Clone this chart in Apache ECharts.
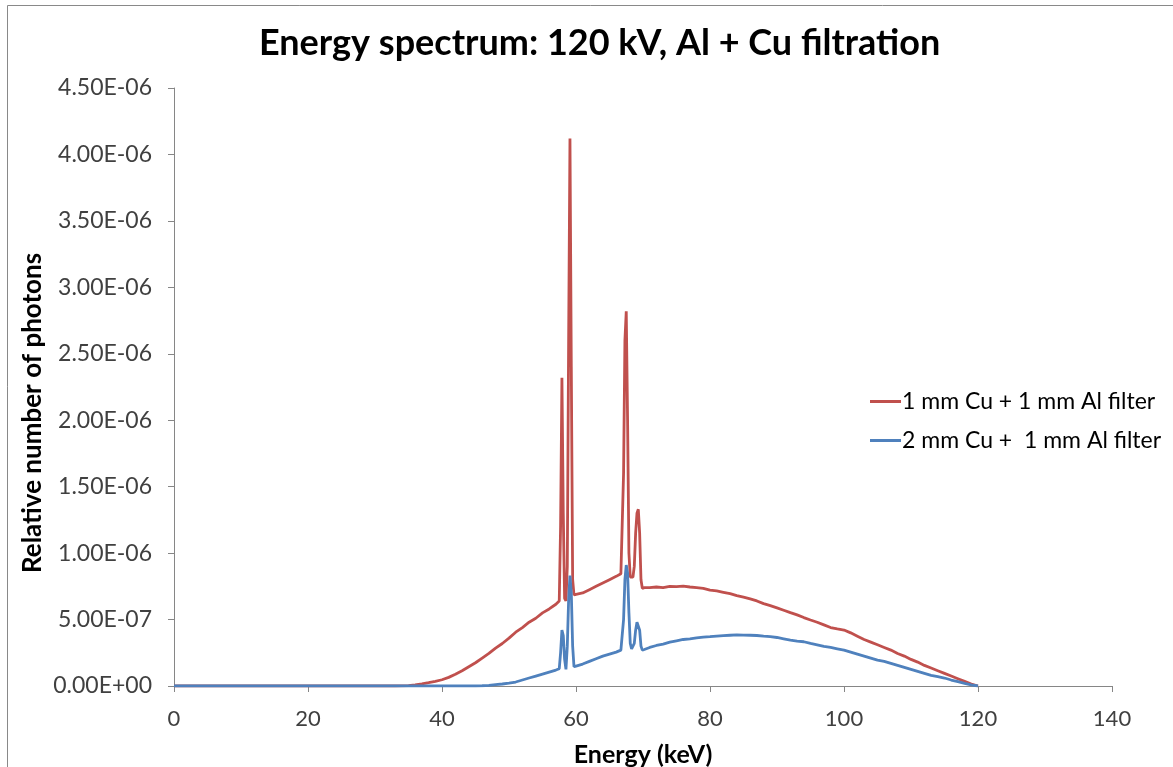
<!DOCTYPE html>
<html>
<head>
<meta charset="utf-8">
<title>Energy spectrum: 120 kV, Al + Cu filtration</title>
<script src="https://cdn.jsdelivr.net/npm/echarts@6/dist/echarts.min.js"></script>
<style>
  html, body { margin: 0; padding: 0; background: #ffffff; }
  #chart { width: 1173px; height: 767px; }
</style>
</head>
<body>
<div id="chart"></div>
<script>
// Photon energy (keV) sample points shared by both spectra
const energy = [
  0, 10, 20, 30, 33, 35, 36, 37, 38, 39, 40, 41, 42, 43, 44, 45, 46, 47, 48, 49,
  50, 51, 52, 53, 54, 55, 56, 57,
  57.5, 57.7, 57.9, 58.1, 58.3, 58.5, 58.7, 58.9, 59.1, 59.3, 59.5, 59.7, 60,
  61, 62, 63, 64, 65, 66, 66.7,
  66.9, 67.1, 67.3, 67.5, 67.7, 67.9, 68.1, 68.3, 68.5, 68.7, 68.9, 69.1, 69.3, 69.5, 69.7, 69.9, 70.2,
  71, 72, 73, 74, 75, 76, 77, 78, 79, 80, 81, 82, 83, 84, 85, 86, 87, 88, 89, 90,
  91, 92, 93, 94, 95, 96, 97, 98, 99, 100, 101, 102, 103, 104, 105, 106, 107, 108, 109, 110,
  111, 112, 113, 114, 115, 116, 117, 118, 119, 120
];

// Relative number of photons, in units of 1E-06
const cu1al1 = [
  0, 0, 0, 0, 0, 0.003, 0.008, 0.016, 0.025, 0.035, 0.047, 0.065, 0.088, 0.115, 0.145, 0.175, 0.21, 0.245, 0.285, 0.32,
  0.36, 0.405, 0.44, 0.48, 0.51, 0.55, 0.58, 0.615,
  0.64, 1.2, 2.32, 1.3, 0.66, 0.64, 0.9, 2.6, 4.12, 2.4, 0.8, 0.685, 0.69,
  0.70, 0.725, 0.75, 0.775, 0.80, 0.825, 0.845,
  0.85, 1.6, 2.6, 2.82, 2.0, 1.0, 0.82, 0.82, 0.82, 0.9, 1.15, 1.3, 1.33, 1.15, 0.8, 0.735, 0.74,
  0.74, 0.745, 0.74, 0.75, 0.748, 0.752, 0.745, 0.74, 0.735, 0.722, 0.715, 0.705, 0.695, 0.68, 0.668, 0.655, 0.64, 0.62, 0.605, 0.588,
  0.57, 0.552, 0.535, 0.515, 0.497, 0.48, 0.46, 0.44, 0.43, 0.421, 0.40, 0.375, 0.35, 0.33, 0.31, 0.29, 0.27, 0.245, 0.225, 0.2,
  0.18, 0.155, 0.135, 0.115, 0.095, 0.075, 0.055, 0.035, 0.015, 0
];

const cu2al1 = [
  0, 0, 0, 0, 0, 0, 0, 0, 0, 0, 0, 0, 0, 0, 0, 0, 0.002, 0.005, 0.01, 0.015,
  0.022, 0.03, 0.045, 0.06, 0.075, 0.09, 0.105, 0.12,
  0.13, 0.25, 0.42, 0.38, 0.2, 0.125, 0.3, 0.65, 0.83, 0.7, 0.3, 0.145, 0.15,
  0.165, 0.185, 0.205, 0.225, 0.24, 0.255, 0.27,
  0.28, 0.5, 0.8, 0.91, 0.85, 0.55, 0.32, 0.28, 0.28, 0.32, 0.42, 0.48, 0.485, 0.42, 0.3, 0.27, 0.275,
  0.29, 0.305, 0.315, 0.33, 0.34, 0.35, 0.355, 0.362, 0.368, 0.371, 0.376, 0.379, 0.382, 0.384, 0.383, 0.382, 0.38, 0.375, 0.371, 0.365,
  0.355, 0.345, 0.338, 0.333, 0.32, 0.31, 0.298, 0.29, 0.28, 0.27, 0.255, 0.24, 0.225, 0.21, 0.195, 0.185, 0.17, 0.155, 0.14, 0.125,
  0.11, 0.095, 0.08, 0.07, 0.06, 0.045, 0.033, 0.02, 0.008, 0
];

const seriesNames = ['1 mm Cu + 1 mm Al filter', '2 mm Cu +  1 mm Al filter'];
const seriesColors = ['#C0504D', '#4F81BD'];

const FONT = 'Lato, "Open Sans", "DejaVu Sans", sans-serif';

// "4.50E-06" style tick labels
function sciLabel(microValue) {
  const v = Math.round(microValue * 100) / 100 * 1e-6;
  if (v === 0) return '0.00E+00';
  const parts = v.toExponential(2).split('e');
  const exp = parseInt(parts[1], 10);
  return parts[0] + 'E' + (exp < 0 ? '-' : '+') + String(Math.abs(exp)).padStart(2, '0');
}

function pairs(values) {
  return energy.map((e, i) => [e, values[i]]);
}

const chart = echarts.init(document.getElementById('chart'), null, { renderer: 'canvas' });

chart.setOption({
  animation: false,
  backgroundColor: '#ffffff',
  title: {
    text: 'Energy spectrum: 120 kV, Al + Cu filtration',
    left: 254,
    top: 20,
    textStyle: { fontFamily: FONT, fontSize: 36, fontWeight: 'bold', color: '#000000' }
  },
  legend: {
    orient: 'vertical',
    left: 865,
    top: 385,
    itemWidth: 31,
    itemHeight: 3,
    itemGap: 16,
    icon: 'rect',
    data: seriesNames,
    textStyle: { fontFamily: FONT, fontSize: 23, color: '#000000', padding: [0, 0, 0, -4] }
  },
  grid: { left: 174, right: 61, top: 88, bottom: 81, containLabel: false, outerBoundsMode: 'none' },
  xAxis: {
    type: 'value',
    min: 0,
    max: 140,
    interval: 20,
    name: 'Energy (keV)',
    nameLocation: 'middle',
    nameGap: 56,
    nameTextStyle: { fontFamily: FONT, fontSize: 25, fontWeight: 'bold', color: '#000000' },
    axisLine: { lineStyle: { color: '#868686', width: 1 } },
    axisTick: { show: true, length: 6, lineStyle: { color: '#868686' } },
    axisLabel: { fontFamily: FONT, fontSize: 22, color: '#404040', margin: 22 },
    splitLine: { show: false }
  },
  yAxis: {
    type: 'value',
    min: 0,
    max: 4.5,
    interval: 0.5,
    axisLine: { show: true, lineStyle: { color: '#868686', width: 1 } },
    axisTick: { show: true, length: 6, lineStyle: { color: '#868686' } },
    axisLabel: { fontFamily: FONT, fontSize: 23, color: '#404040', margin: 22, formatter: sciLabel },
    splitLine: { show: false }
  },
  graphic: [
    {
      type: 'rect',
      silent: true,
      shape: { x: 7.5, y: 5.5, width: 1300, height: 900 },
      style: { fill: null, stroke: '#898989', lineWidth: 1 }
    },
    {
      type: 'text',
      silent: true,
      x: 33,
      y: 413,
      rotation: Math.PI / 2,
      style: {
        text: 'Relative number of photons',
        fontFamily: FONT,
        fontSize: 26,
        fontWeight: 'bold',
        fill: '#000000',
        align: 'center',
        verticalAlign: 'middle'
      }
    }
  ],
  series: [
    {
      name: seriesNames[0],
      type: 'line',
      data: pairs(cu1al1),
      showSymbol: false,
      smooth: false,
      color: seriesColors[0],
      lineStyle: { color: seriesColors[0], width: 2.8 },
      z: 2
    },
    {
      name: seriesNames[1],
      type: 'line',
      data: pairs(cu2al1),
      showSymbol: false,
      smooth: false,
      color: seriesColors[1],
      lineStyle: { color: seriesColors[1], width: 2.8 },
      z: 3
    }
  ]
});
</script>
</body>
</html>
